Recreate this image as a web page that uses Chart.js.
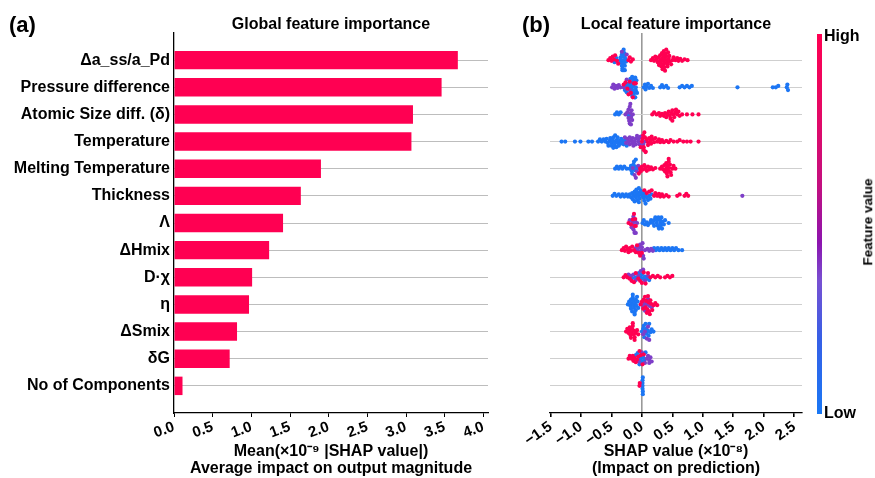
<!DOCTYPE html>
<html>
<head>
<meta charset="utf-8">
<script src="https://cdn.jsdelivr.net/npm/chart.js@4"></script>
<style>
  body { margin: 0; background: #fff; font-family: "Liberation Sans", Arial, sans-serif; }
  #wrap { position: relative; width: 875px; height: 478px; overflow: hidden; }
  #left { position: absolute; left: 0; top: 0; width: 500px; height: 478px; }
  #right { position: absolute; left: 500px; top: 0; width: 375px; height: 478px; }
  .lbl { position: absolute; font-weight: bold; color: #000; white-space: nowrap; line-height: 1; transform: translateY(-50%); }
  #cbar { position: absolute; left: 817px; top: 34px; width: 5px; height: 380px; }
</style>
</head>
<body>
<div id="wrap">
  <div id="left"><canvas id="barChart"></canvas></div>
  <div id="right"><canvas id="swarmChart"></canvas></div>
  <div class="lbl" style="left:9px; top:25px; font-size:22px;">(a)</div>
  <div class="lbl" style="left:522px; top:25px; font-size:22px;">(b)</div>
  <div id="cbar"></div>
  <div class="lbl" style="left:824px; top:36px; font-size:16px;">High</div>
  <div class="lbl" style="left:824px; top:413px; font-size:16px;">Low</div>
  <div class="lbl" style="left:868px; top:222px; font-size:13.5px; transform: translate(-50%, -50%) rotate(-90deg);">Feature value</div>
</div>
<script>
// features, top to bottom
const features = ['Δa_ss/a_Pd', 'Pressure difference', 'Atomic Size diff. (δ)', 'Temperature',
  'Melting Temperature', 'Thickness', 'Λ', 'ΔHmix', 'D·χ', 'η', 'ΔSmix', 'δG', 'No of Components'];

// mean |SHAP| (x1e-9)
const meanAbsShap = [3.67, 3.46, 3.09, 3.07, 1.90, 1.64, 1.41, 1.23, 1.01, 0.97, 0.815, 0.72, 0.11];

const barTicks = [0, 0.5, 1.0, 1.5, 2.0, 2.5, 3.0, 3.5, 4.0];
const swarmTicks = [-1.5, -1.0, -0.5, 0, 0.5, 1.0, 1.5, 2.0, 2.5];

// SHAP values (x1e-8) per feature, split by feature value: low / mid / high
const swarmLow = [
  [-0.45, -0.42, -0.36, -0.35, -0.34, -0.33, -0.32, -0.32, -0.31, -0.31, -0.30, -0.30, -0.29, -0.29, -0.28, -0.28, -0.27, -0.26, -0.31, -0.30, -0.33],
  [-0.28, -0.26, -0.25, -0.23, -0.21, -0.19, -0.18, -0.17, -0.16, -0.16, -0.15, -0.14, -0.14, -0.13, -0.12, -0.12, -0.11, -0.1, -0.1, -0.09, -0.08, -0.13, -0.11, -0.15,
    0.03, 0.05, 0.06, 0.08, 0.1, 0.12, 0.15, 0.18, 0.3, 0.33, 0.36, 0.4, 0.43, 0.62, 0.66, 0.7, 0.74, 0.78, 0.82, 1.57, 2.15, 2.2, 2.24, 2.38, 2.39, 2.4],
  [-0.44, -0.41, -0.38, -0.35, -0.22, -0.18],
  [-1.32, -1.26, -1.1, -1.01, -0.88, -0.82, -0.72, -0.69, -0.66, -0.63, -0.6, -0.58, -0.56, -0.55, -0.53, -0.52, -0.5, -0.5, -0.48, -0.47, -0.47, -0.45,
    -0.45, -0.44, -0.42, -0.42, -0.4, -0.4, -0.38, -0.37, -0.35, -0.34, -0.32, -0.3, -0.28, -0.25],
  [-0.44, -0.41, -0.38, -0.35, -0.32, -0.29, -0.25, -0.2, -0.18, -0.17, -0.16, -0.14, -0.13, -0.12, -0.11, -0.1, -0.08],
  [-0.48, -0.45, -0.42, -0.38, -0.35, -0.32, -0.29, -0.26, -0.23, -0.2, -0.18, -0.16, -0.15, -0.14, -0.12, -0.12, -0.1, -0.1, -0.09, -0.08, -0.07, -0.06,
    -0.05, -0.05, -0.04, -0.03, -0.02, 0, 0.02, 0.03, 0.04, 0.05, 0.06, 0.08, 0.1, 0.12, 0.14, 0.16],
  [0.01, 0.03, 0.05, 0.08, 0.1, 0.13, 0.15, 0.18, 0.2, 0.2, 0.22, 0.24, 0.25, 0.26, 0.27, 0.28, 0.3, 0.3, 0.31, 0.32, 0.33, 0.34, 0.36, 0.38, 0.44],
  [0.2, 0.23, 0.26, 0.29, 0.32, 0.35, 0.38, 0.41, 0.44, 0.47, 0.5, 0.53, 0.56, 0.6, 0.66],
  [-0.15, -0.1, -0.05, -0.02, 0, 0.02, 0.05, 0.08, 0.12],
  [-0.23, -0.21, -0.19, -0.18, -0.18, -0.17, -0.16, -0.15, -0.15, -0.14, -0.14, -0.13, -0.12, -0.12, -0.11, -0.1, -0.1, -0.09, -0.08, -0.07, -0.06],
  [0, 0.02, 0.03, 0.04, 0.06, 0.07, 0.08, 0.1, 0.11, 0.12, 0.14, 0.16, 0.19],
  [-0.1, -0.07, -0.04, -0.02, 0, 0.02, 0.04, 0.06],
  [0.01, 0.01, 0.01, 0.01, 0.015, 0.015, 0.015]
];
const swarmMid = [
  [-0.33, -0.25],
  [-0.49, -0.47, -0.45, -0.43, -0.4, -0.38, -0.35, -0.3, -0.25, -0.2],
  [-0.27, -0.24, -0.22, -0.22, -0.21, -0.2, -0.2, -0.19, -0.19, -0.18, -0.18, -0.17, -0.16, -0.15],
  [-0.28, -0.26, -0.24, -0.22, -0.2, -0.2, -0.18, -0.16, -0.15, -0.14, -0.12, -0.1, -0.1, -0.08, -0.06, -0.05, -0.04, -0.02, 0.02, 0.05],
  [-0.15, -0.12, -0.1, -0.08, -0.06],
  [1.65],
  [-0.2, -0.17, -0.15, -0.14, -0.14, -0.13, -0.12, -0.12, -0.11, -0.1, -0.08],
  [-0.1, -0.07, -0.05, -0.03, -0.01, 0, 0.01, 0.02, 0.03, 0.05, 0.09, 0.12, 0.15, 0.18],
  [-0.22, -0.18, -0.14, -0.1, -0.06, -0.02, 0.02, 0.05, 0.1],
  [0.02, 0.04, 0.05, 0.08, 0.1, 0.12, 0.16],
  [0.02, 0.05, 0.08, 0.1, 0.12],
  [-0.05, 0, 0.05, 0.08, 0.1, 0.12, 0.12, 0.14, 0.16],
  []
];
const swarmHigh = [
  [-0.55, -0.52, -0.5, -0.48, -0.46, -0.44, -0.41, -0.39, -0.22, -0.2, -0.18, -0.15, 0.15, 0.18, 0.2, 0.22, 0.24, 0.26, 0.27, 0.28, 0.3, 0.3, 0.31, 0.32,
    0.33, 0.33, 0.34, 0.35, 0.35, 0.36, 0.36, 0.37, 0.37, 0.38, 0.38, 0.39, 0.4, 0.4, 0.41, 0.42, 0.42, 0.43, 0.44, 0.45, 0.46, 0.48, 0.5, 0.52, 0.55,
    0.58, 0.6, 0.63, 0.66, 0.7, 0.75],
  [-0.3, -0.27, -0.24, -0.22, -0.2, -0.18, -0.15, -0.13, -0.12, -0.1],
  [0.17, 0.2, 0.24, 0.28, 0.3, 0.33, 0.36, 0.38, 0.4, 0.42, 0.44, 0.46, 0.47, 0.48, 0.5, 0.5, 0.52, 0.53, 0.55, 0.56, 0.58, 0.6, 0.62, 0.66, 0.74, 0.83, 0.93],
  [-0.02, 0, 0.01, 0.02, 0.03, 0.03, 0.04, 0.05, 0.06, 0.06, 0.08, 0.1, 0.1, 0.12, 0.14, 0.15, 0.16, 0.18, 0.2, 0.22, 0.25, 0.28, 0.3, 0.33, 0.36,
    0.4, 0.44, 0.47, 0.52, 0.58, 0.62, 0.68, 0.74, 0.8, 0.93],
  [-0.05, -0.03, -0.02, 0, 0.02, 0.04, 0.06, 0.08, 0.1, 0.12, 0.15, 0.18, 0.22, 0.3, 0.33, 0.35, 0.37, 0.38, 0.4, 0.4, 0.41, 0.42, 0.42, 0.43, 0.44,
    0.44, 0.45, 0.46, 0.47, 0.48, 0.5, 0.52, 0.55],
  [0.04, 0.08, 0.12, 0.16, 0.2, 0.22, 0.25, 0.28, 0.3, 0.33, 0.36, 0.4, 0.44, 0.58, 0.62, 0.7, 0.73, 0.76],
  [-0.22, -0.18, -0.15, -0.13, -0.12, -0.11, -0.1],
  [-0.33, -0.3, -0.28, -0.26, -0.24, -0.22, -0.2, -0.18, -0.16, -0.13, -0.1, -0.08, -0.05, -0.03, 0],
  [-0.3, -0.27, -0.24, -0.2, -0.17, -0.13, -0.1, -0.06, -0.03, 0, 0.03, 0.06, 0.1, 0.14, 0.18, 0.22, 0.26, 0.3, 0.38, 0.42, 0.46, 0.5],
  [-0.02, 0, 0.02, 0.03, 0.05, 0.06, 0.07, 0.08, 0.09, 0.1, 0.11, 0.12, 0.13, 0.14, 0.15, 0.17, 0.19, 0.22, 0.25],
  [-0.26, -0.24, -0.22, -0.2, -0.2, -0.19, -0.18, -0.17, -0.16, -0.15, -0.15, -0.14, -0.13, -0.12, -0.12, -0.1, -0.08, -0.06],
  [-0.22, -0.2, -0.17, -0.15, -0.14, -0.12, -0.1, -0.08, -0.06, -0.04, -0.02, 0.01, 0.03],
  [-0.04, -0.035]
];

const n = features.length;

// red_blue style colormap: [feature value, r, g, b]
const cmapStops = [
  [0, 25, 120, 245], [0.2, 55, 95, 230], [0.35, 120, 80, 210], [0.45, 140, 20, 175],
  [0.6, 195, 15, 128], [0.8, 230, 8, 100], [1, 255, 0, 82]
];
function cmap(f) {
  for (let i = 1; i < cmapStops.length; i++) {
    const a = cmapStops[i - 1], b = cmapStops[i];
    if (f <= b[0]) {
      const t = (f - a[0]) / (b[0] - a[0]);
      const c = [1, 2, 3].map(k => Math.round(a[k] + (b[k] - a[k]) * t));
      return `rgb(${c[0]},${c[1]},${c[2]})`;
    }
  }
  return 'rgb(255,0,82)';
}
document.getElementById('cbar').style.background =
  'linear-gradient(to top, ' + cmapStops.map(s => `rgb(${s[1]},${s[2]},${s[3]}) ${s[0] * 100}%`).join(', ') + ')';

// beeswarm offsets, pixel based
const X_PX = 60.8, Y_PX = 27.14;
function swarmOffsets(vals) {
  const D = 2.7, STEP = 0.7, MAXOFF = 10.5;
  const order = vals.map((p, i) => i).sort((a, b) => vals[a] - vals[b]);
  const placed = [];
  const dy = new Array(vals.length).fill(0);
  let overflow = 0;
  for (const i of order) {
    const x = vals[i] * X_PX;
    const near = placed.filter(p => Math.abs(p.x - x) < D);
    let best = null;
    for (let k = 0; k * STEP <= MAXOFF && best === null; k++) {
      for (const s of (k === 0 ? [1] : [1, -1])) {
        const y = s * k * STEP;
        if (near.every(p => (p.x - x) ** 2 + (p.y - y) ** 2 >= D * D)) { best = y; break; }
      }
    }
    if (best === null) { best = ((overflow * 7) % 21) - 10; overflow++; }
    placed.push({ x, y: best });
    dy[i] = best;
  }
  return dy;
}

const swarmPoints = [];
const swarmColors = [];
features.forEach((name, i) => {
  const row = n - 1 - i;
  const vals = [], fs = [];
  swarmLow[i].forEach(v => { vals.push(v); fs.push(0.02); });
  swarmMid[i].forEach(v => { vals.push(v); fs.push(0.38); });
  swarmHigh[i].forEach(v => { vals.push(v); fs.push(1); });
  const dy = swarmOffsets(vals);
  vals.forEach((v, j) => {
    swarmPoints.push({ x: v, y: row + dy[j] / Y_PX });
    swarmColors.push(cmap(fs[j]));
  });
});

Chart.defaults.font.family = '"Liberation Sans", Arial, sans-serif';
Chart.defaults.font.weight = 'bold';
Chart.defaults.font.size = 16;
Chart.defaults.color = '#000';

const panelTitle = {
  id: 'panelTitle',
  afterDraw(chart, args, opts) {
    const { ctx, chartArea } = chart;
    ctx.save();
    ctx.font = 'bold 16px "Liberation Sans", Arial, sans-serif';
    ctx.fillStyle = '#000';
    ctx.textAlign = 'center';
    ctx.textBaseline = 'middle';
    ctx.fillText(opts.text, (chartArea.left + chartArea.right) / 2, 25);
    ctx.restore();
  }
};

const rowTicks = scale => { scale.ticks = features.map((f, i) => ({ value: i })); };

new Chart(document.getElementById('barChart'), {
  type: 'bar',
  data: {
    datasets: [{
      data: meanAbsShap.map((v, i) => ({ x: v, y: n - 1 - i })),
      backgroundColor: '#ff0052',
      borderWidth: 0,
      categoryPercentage: 1,
      barPercentage: 0.68
    }]
  },
  plugins: [panelTitle],
  options: {
    indexAxis: 'y',
    responsive: true,
    maintainAspectRatio: false,
    animation: false,
    layout: { padding: { top: 33, right: 12, bottom: 0, left: 0 } },
    plugins: {
      legend: { display: false },
      tooltip: { enabled: false },
      panelTitle: { text: 'Global feature importance' }
    },
    scales: {
      x: {
        type: 'linear',
        min: 0,
        max: 4.06,
        afterBuildTicks: scale => { scale.ticks = barTicks.map(v => ({ value: v })); },
        afterFit: scale => { scale.height = 65; },
        ticks: { callback: v => v.toFixed(1), autoSkip: false, minRotation: 20, maxRotation: 20, padding: 1, font: { size: 15 } },
        grid: { drawOnChartArea: false, tickLength: 4, color: '#000' },
        border: { color: '#000', width: 1.3 },
        title: {
          display: true,
          text: ['Mean(×10⁻⁹ |SHAP value|)', 'Average impact on output magnitude'],
          font: { size: 16, lineHeight: 1.12 },
          padding: { top: 0, bottom: 0 }
        }
      },
      y: {
        type: 'linear',
        min: -1,
        max: 13,
        offset: false,
        afterBuildTicks: rowTicks,
        afterFit: scale => { scale.width = 174; },
        ticks: { callback: v => features[n - 1 - v], autoSkip: false, padding: 4, font: { size: 16 } },
        grid: { color: '#bdbdbd', lineWidth: 1, drawTicks: false, offset: false },
        border: { color: '#000', width: 1.3 }
      }
    }
  }
});

new Chart(document.getElementById('swarmChart'), {
  type: 'scatter',
  data: {
    datasets: [{
      data: swarmPoints,
      pointBackgroundColor: swarmColors,
      pointBorderWidth: 0,
      pointRadius: 2.1
    }]
  },
  plugins: [panelTitle],
  options: {
    responsive: true,
    maintainAspectRatio: false,
    animation: false,
    layout: { padding: { top: 33, right: 73, bottom: 0, left: 0 } },
    plugins: {
      legend: { display: false },
      tooltip: { enabled: false },
      panelTitle: { text: 'Local feature importance' }
    },
    scales: {
      x: {
        type: 'linear',
        min: -1.51,
        max: 2.63,
        afterBuildTicks: scale => { scale.ticks = swarmTicks.map(v => ({ value: v })); },
        afterFit: scale => { scale.height = 65; },
        ticks: {
          callback: v => (v < 0 ? '\u2212' : '') + Math.abs(v).toFixed(1),
          autoSkip: false, minRotation: 35, maxRotation: 35, padding: 1, font: { size: 15 }
        },
        grid: {
          color: ctx => (ctx.tick && ctx.tick.value === 0) ? '#999' : 'rgba(0,0,0,0)',
          lineWidth: 1.6,
          tickColor: '#000',
          tickLength: 4
        },
        border: { color: '#000', width: 1.3 },
        title: {
          display: true,
          text: ['SHAP value (×10⁻⁸)', '(Impact on prediction)'],
          font: { size: 16, lineHeight: 1.12 },
          padding: { top: 0, bottom: 0 }
        }
      },
      y: {
        type: 'linear',
        min: -1,
        max: 13,
        afterBuildTicks: rowTicks,
        afterFit: scale => { scale.width = 50; },
        ticks: { display: false },
        grid: { color: '#cfcfcf', lineWidth: 1, drawTicks: false },
        border: { display: false }
      }
    }
  }
});
</script>
</body>
</html>
